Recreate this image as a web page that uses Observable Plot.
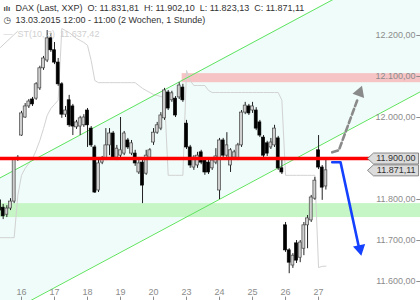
<!DOCTYPE html>
<html><head><meta charset="utf-8">
<script src="https://cdn.jsdelivr.net/npm/d3@7"></script>
<script src="https://cdn.jsdelivr.net/npm/@observablehq/plot@0.6"></script>
<style>body{margin:0;background:#fff} svg{display:block}</style>
</head><body><div id="chart"></div>
<script>
// DAX hourly candles, 13.03.2015 12:00 - 27.03.2015 11:00
const opens  = [11798,11780,11763,11778,11795,11898, 11956,12000,12027,12044,12046,12071,12120,12139,12193, 12164,12134,12081,12007,12042,12027,11976,11978,11981, 12017,11973,11927,11822,11890,11900,11932,11961,11902, 11907,11912,11944,11912,11912,11866,11890,11863,11902, 11939,11963,11973,11998,12061,12042,12046,12049,12073, 11985,11927,11878,11883,11915,11895,11890,11876,11890, 11822,11944,11907,11883,11902,11900,11932,12012,12027, 12017,12017,11988,11951,11937,11927,11932,11949,11876, 11737,11676,11639,11693,11658,11680,11737,11749,11802, 11920,11878,11831.81];
const highs  = [11810,11788,11785,11802,11902,11907, 12015,12034,12044,12049,12085,12125,12149,12212,12205, 12183,12144,12085,12027,12054,12032,11993,12003,12007, 12022,11978,11932,11900,11905,11973,11973,11966,11932, 12000,11966,11949,11944,11920,11895,11900,11920,11924, 11973,11988,12012,12071,12066,12064,12051,12085,12081, 11993,11932,11907,11915,11920,11900,11900,11902,11924, 11949,11949,11963,11924,11920,11937,12017,12037,12032, 12037,12024,11993,11956,11942,11949,11981,11954,11900, 11744,11680,11668,11700,11700,11744,11761,11810,11854, 11956,11883,11902.10];
const lows   = [11766,11751,11756,11773,11790,11893, 11954,11998,12022,12027,12042,12066,12115,12134,12159, 12129,12076,11998,12000,11976,11956,11971,11956,11976, 11927,11927,11815,11817,11885,11895,11907,11900,11895, 11900,11907,11922,11907,11881,11861,11790,11859,11898, 11932,11959,11968,11993,12017,12037,12000,12044,12037, 11922,11876,11871,11876,11885,11859,11861,11871,11885, 11800,11900,11902,11866,11895,11895,11927,12007,12005, 12010,11968,11951,11902,11905,11922,11927,11871,11861, 11671,11619,11632,11644,11646,11663,11680,11744,11798, 11873,11798,11823.13];
const closes = [11773,11759,11778,11795,11898,11902, 12010,12027,12039,12032,12081,12120,12144,12193,12164, 12134,12081,12007,12017,11981,11978,11988,11998,12000, 11981,11932,11817,11888,11900,11932,11961,11902,11924, 11920,11961,11927,11937,11888,11888,11834,11907,11920, 11963,11981,12005,12066,12022,12059,12005,12078,12042, 11927,11883,11902,11907,11890,11866,11866,11895,11905, 11944,11907,11932,11920,11915,11932,12012,12029,12010, 12027,11973,11956,11907,11912,11939,11973,11876,11866, 11676,11646,11663,11651,11695,11737,11754,11805,11846, 11878,11829,11871.11];
// SuperTrend(10, 3)
const supertrend = [11707,11707,11707,11707,11707,11810, 11859,11876,11888,11900,11920,11944,11973,12005,12022, 12032,12042,12217,12212,12207,12200,12193,12188,12183, 12176,12139,12090,12085,12085,12085,12085,12085,12085, 12085,12085,12085,12085,12085,12078,12071,12066,12061, 12056,12054,12051,12049,11859,11859,11859,11859,11859, 12115,12090,12078,12078,12078,12078,12066,12061,12061, 12061,12061,12061,12061,12061,12061,12061,12061,12061, 12061,12061,12061,12061,12061,12061,12061,12061,12042, 11859,11859,11859,11859,11859,11859,11859,11859,11859, 11634,11637,11637.42];
const dayLabels = ["16","17","18","19","20","23","24","25","26","27"];
const dayFirstCandle = [6,15,24,33,42,51,60,69,78,87];
const priceTicks = [12200,12100,12000,11800,11700,11600];
const resistanceLevel = 11900;
const lastClose = 11871.11;
const redZone = {from: 49.8, low: 12085, high: 12107};
const greenZone = {low: 11756, high: 11790};
const channelIdx = [0, 115];
const channelUpper = [11852, 12403];
const channelLower = [11513, 12064];
const oldLineIdx = [0.27, 4.9];
const oldLineVal = [12171, 12210];
const bullIdx = [90.73, 92.53, 97.63];
const bullVal = [11915, 11920, 12044];
const bearIdx = [90.73, 93.0, 97.9];
const bearVal = [11891, 11891, 11688];
const headers = [
  "DAX (Last, XXP)\u00a0\u00a0O: 11.831,81\u00a0\u00a0H: 11.902,10\u00a0\u00a0L: 11.823,13\u00a0\u00a0C: 11.871,11",
  "13.03.2015 12:00 - 11:00 (2 Wochen, 1 Stunde)",
  "ST(10, 3)\u00a0\u00a011.637,42"
];

const xMin = 0.273, xMax = 114.8, yMin = 11553.7, yMax = 12285.4;
const fmtDE = v => { const [a, b] = v.toFixed(2).split("."); return a.replace(/\B(?=(\d{3})+(?!\d))/g, ".") + "," + b; };

const candles = opens.map((o, i) => ({i, open: o, high: highs[i], low: lows[i], close: closes[i], up: closes[i] >= o}));
const st = supertrend.map((v, i) => ({i, v}));
const channel = channelIdx.map((i, k) => ({i, upper: channelUpper[k], lower: channelLower[k]}));
const oldLine = oldLineIdx.map((i, k) => ({i, v: oldLineVal[k]}));
const bull = bullIdx.map((i, k) => ({i, v: bullVal[k]}));
const bear = bearIdx.map((i, k) => ({i, v: bearVal[k]}));
const days = dayLabels.map((label, k) => ({i: dayFirstCandle[k], label}));
const tags = [{v: resistanceLevel}, {v: lastClose}];

const tagSymbol = {draw(ctx) {
  ctx.moveTo(-53, 0); ctx.lineTo(-47, -5.5); ctx.lineTo(-2, -5.5); ctx.lineTo(-2, 5.5); ctx.lineTo(-47, 5.5); ctx.closePath();
}};

const chart = Plot.plot({
  width: 420, height: 300, margin: 0,
  x: {domain: [xMin, xMax], axis: null},
  y: {domain: [yMin, yMax], axis: null},
  style: {fontFamily: "Liberation Sans, Arial, sans-serif", background: "#fff"},
  marks: [
    Plot.areaY(channel, {x: "i", y1: "lower", y2: "upper", fill: "#effcf9", clip: true}),
    Plot.rect([greenZone], {y1: "low", y2: "high", fill: "#c6f6c6"}),
    Plot.rect([redZone], {x1: "from", x2: () => xMax + 1, y1: "low", y2: "high", fill: "#f6c4c4", clip: true}),
    Plot.line(st, {x: "i", y: "v", stroke: "#d2d2d2", strokeWidth: 1}),
    Plot.line(oldLine, {x: "i", y: "v", stroke: "#cfcfcf", strokeWidth: 1, clip: true}),
    Plot.line(channel, {x: "i", y: "upper", stroke: "#5fe35f", strokeWidth: 1, clip: true}),
    Plot.line(channel, {x: "i", y: "lower", stroke: "#5fe35f", strokeWidth: 1, clip: true}),
    Plot.ruleX(candles, {x: "i", y1: "low", y2: "high", stroke: "#222", strokeWidth: 1, clip: true}),
    Plot.rect(candles, {x1: d => d.i - 0.4, x2: d => d.i + 0.4, y1: "open", y2: "close",
      fill: d => d.up ? "#cfcfcf" : "#000", stroke: d => d.up ? "#444" : "#000", strokeWidth: 0.7, clip: true}),
    Plot.ruleY([resistanceLevel], {x1: xMin, x2: 101, stroke: "#ff0000", strokeWidth: 3.3}),
    Plot.line(bull, {x: "i", y: "v", stroke: "#8a8a8a", strokeWidth: 2.6, strokeDasharray: "6,3", curve: "linear"}),
    Plot.dot([bull[bull.length - 1]], {x: d => d.i + 0.55, y: d => d.v + 17, symbol: "triangle", r: 4.6, fill: "#8a8a8a", rotate: 20}),
    Plot.line(bear, {x: "i", y: "v", stroke: "#1440ff", strokeWidth: 2.6}),
    Plot.dot([bear[bear.length - 1]], {x: d => d.i + 0.35, y: d => d.v - 8, symbol: "triangle", r: 4.6, fill: "#1440ff", rotate: 168}),
    Plot.text(priceTicks, {y: d => d, text: d => fmtDE(d), frameAnchor: "right", dx: -5, textAnchor: "end", lineAnchor: "middle", fill: "#8c8c8c", fontSize: 9}),
    Plot.ruleY(priceTicks, {y: d => d, x1: 113.8, x2: xMax, stroke: "#8c8c8c"}),
    Plot.dot(tags, {x: () => xMax, y: "v", symbol: tagSymbol, r: 5, fill: "#dcdcdc", stroke: "#6e6e6e", strokeWidth: 0.8}),
    Plot.text(tags, {y: "v", text: d => fmtDE(d.v), frameAnchor: "right", dx: -5, textAnchor: "end", lineAnchor: "middle", fill: "#333", fontSize: 9}),
    Plot.text(days, {x: "i", text: "label", frameAnchor: "bottom", dy: -8.5, lineAnchor: "middle", fill: "#8c8c8c", fontSize: 9}),
    Plot.ruleX(days, {x: "i", y1: yMin, y2: 11562, stroke: "#8c8c8c"}),
    Plot.text(["ılı"], {text: d => d, frameAnchor: "top-left", dx: 3, dy: 8, lineAnchor: "middle", textAnchor: "start", fill: "#444", fontSize: 8, fontWeight: "bold"}),
    Plot.text([headers[0]], {text: d => d, frameAnchor: "top-left", dx: 15, dy: 8, lineAnchor: "middle", textAnchor: "start", fill: "#333", fontSize: 9}),
    Plot.text(["◷"], {text: d => d, frameAnchor: "top-left", dx: 3, dy: 19.5, lineAnchor: "middle", textAnchor: "start", fill: "#444", fontSize: 9, fontFamily: "DejaVu Sans"}),
    Plot.text([headers[1]], {text: d => d, frameAnchor: "top-left", dx: 15, dy: 19.5, lineAnchor: "middle", textAnchor: "start", fill: "#333", fontSize: 9}),
    Plot.text(["—"], {text: d => d, frameAnchor: "top-left", dx: 3, dy: 33.5, lineAnchor: "middle", textAnchor: "start", fill: "#cfcfcf", fontSize: 9}),
    Plot.text([headers[2]], {text: d => d, frameAnchor: "top-left", dx: 17, dy: 33.5, lineAnchor: "middle", textAnchor: "start", fill: "#d0d0d0", fontSize: 9})
  ]
});
document.getElementById("chart").appendChild(chart);
</script>
</body></html>
